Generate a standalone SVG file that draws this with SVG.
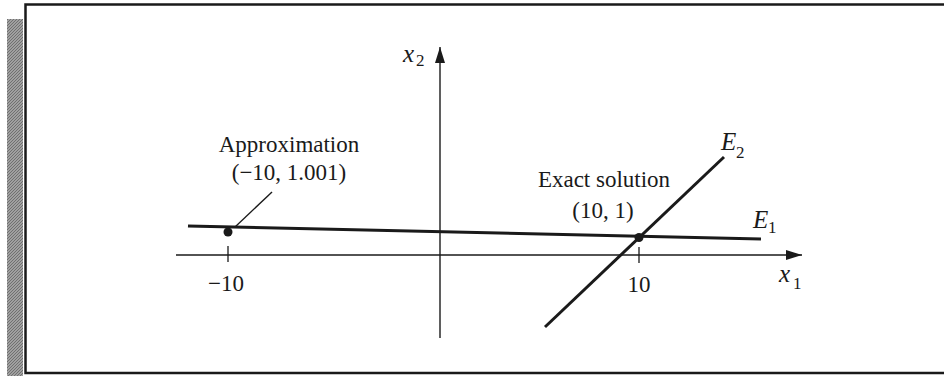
<svg xmlns="http://www.w3.org/2000/svg" width="944" height="376" viewBox="0 0 944 376">
<style>
.t{font-family:"Liberation Serif","Times New Roman",serif;font-size:23px;fill:#1a1a1a}
.it{font-family:"Liberation Serif","Times New Roman",serif;font-style:italic;font-size:25px;fill:#1a1a1a}
.sub{font-family:"Liberation Serif","Times New Roman",serif;font-size:17px;fill:#1a1a1a}
.axis{stroke:#1a1a1a;stroke-width:1.4;fill:none}
.line{stroke:#1a1a1a;stroke-width:3;fill:none;stroke-linecap:butt}
.tick{stroke:#1a1a1a;stroke-width:1.3}
</style>
<defs>
<marker id="arr" viewBox="0 0 16 10" refX="16" refY="5" markerWidth="16" markerHeight="10" markerUnits="userSpaceOnUse" orient="auto">
<path d="M0,0 L16,5 L0,10 Z" fill="#1a1a1a"/>
</marker>
<pattern id="hatch" width="3" height="3" patternUnits="userSpaceOnUse">
<rect width="3" height="3" fill="#a0a0a0"/>
<path d="M0,3 L3,0" stroke="#707070" stroke-width="1"/>
</pattern>
</defs>
<rect width="944" height="376" fill="#ffffff"/>
<g id="frame">
<rect x="7" y="19" width="16" height="357" fill="url(#hatch)"/>
<path d="M950,4.5 L25.5,4.5 L25.5,373 L950,373" fill="none" stroke="#1a1a1a" stroke-width="2.5"/>
</g>
<g id="connectors">
<line id="x1-axis" class="axis" x1="176" y1="255" x2="802" y2="255" marker-end="url(#arr)"/>
<line id="x2-axis" class="axis" x1="440" y1="338" x2="440" y2="47" marker-end="url(#arr)"/>
<line class="tick" x1="228" y1="246" x2="228" y2="262"/>
<line class="tick" x1="639" y1="247" x2="639" y2="263"/>
<line id="E1-line" class="line" x1="188" y1="226" x2="761" y2="239"/>
<line id="E2-line" class="line" x1="545" y1="327" x2="724" y2="157"/>
<line id="leader" class="axis" x1="272" y1="192" x2="235" y2="227"/>
</g>
<g id="axis-labels">
<text class="it" x="403" y="62">x</text><text class="sub" x="416" y="66">2</text>
<text class="it" x="779" y="282">x</text><text class="sub" x="793" y="289">1</text>
<text class="t" x="226" y="291" text-anchor="middle">−10</text>
<text class="t" x="639" y="292" text-anchor="middle">10</text>
</g>
<g id="E1">
<text class="it" x="753" y="228">E</text><text class="sub" x="768" y="233">1</text>
</g>
<g id="E2">
<text class="it" x="721" y="150">E</text><text class="sub" x="736" y="158">2</text>
</g>
<g id="approximation">
<circle cx="228" cy="232" r="4.5" fill="#1a1a1a"/>
<text class="t" x="289" y="152" text-anchor="middle">Approximation</text>
<text class="t" x="289" y="180" text-anchor="middle">(−10, 1.001)</text>
</g>
<g id="exact-solution">
<circle cx="639" cy="237.5" r="4.5" fill="#1a1a1a"/>
<text class="t" x="604" y="187" text-anchor="middle">Exact solution</text>
<text class="t" x="603" y="218" text-anchor="middle">(10, 1)</text>
</g>
</svg>
